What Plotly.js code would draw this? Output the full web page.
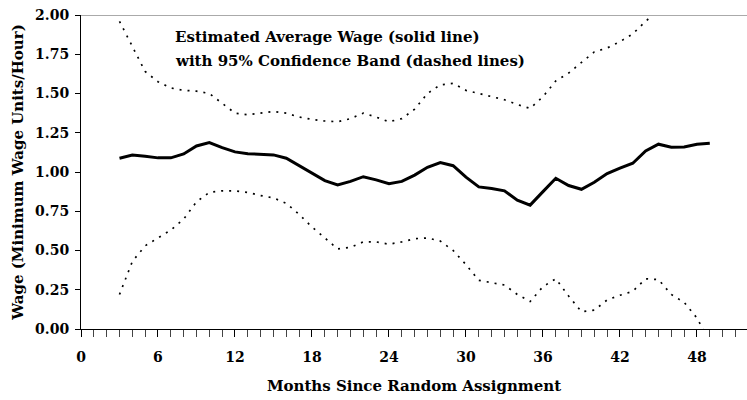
<!DOCTYPE html>
<html>
<head>
<meta charset="utf-8">
<script src="https://cdn.plot.ly/plotly-3.0.1.min.js"></script>
<style>html,body{margin:0;padding:0;background:#fff;}#chart{width:747px;height:400px;}</style>
</head>
<body>
<div id="chart"></div>
<script>
var months = [3,4,5,6,7,8,9,10,11,12,13,14,15,16,17,18,19,20,21,22,23,24,25,26,27,28,29,30,31,32,33,34,35,36,37,38,39,40,41,42,43,44,45,46,47,48,49];
var wage = [1.088,1.108,1.10,1.09,1.09,1.115,1.166,1.187,1.155,1.128,1.117,1.115,1.109,1.088,1.04,0.99,0.945,0.918,0.94,0.97,0.95,0.925,0.94,0.98,1.03,1.06,1.04,0.967,0.905,0.895,0.88,0.82,0.789,0.875,0.96,0.914,0.89,0.935,0.99,1.024,1.056,1.134,1.177,1.158,1.16,1.177,1.183];
var upper = [1.96,1.80,1.64,1.575,1.535,1.52,1.515,1.50,1.44,1.375,1.365,1.375,1.385,1.375,1.35,1.335,1.325,1.32,1.34,1.375,1.35,1.32,1.34,1.40,1.50,1.555,1.565,1.52,1.50,1.48,1.46,1.43,1.405,1.48,1.58,1.63,1.70,1.765,1.79,1.83,1.88,1.96,2.03,2.10,2.16,2.22,2.28];
var lower = [0.22,0.43,0.53,0.58,0.63,0.70,0.81,0.87,0.88,0.88,0.87,0.85,0.835,0.80,0.73,0.65,0.58,0.51,0.52,0.555,0.555,0.54,0.555,0.575,0.58,0.56,0.50,0.41,0.31,0.295,0.28,0.22,0.175,0.27,0.32,0.21,0.11,0.12,0.185,0.215,0.24,0.32,0.315,0.22,0.17,0.07,-0.08];
var xTicks = [0,6,12,18,24,30,36,42,48];
var yTicks = [0,0.25,0.5,0.75,1.0,1.25,1.5,1.75,2.0];
var yTickText = ["0.00","0.25","0.50","0.75","1.00","1.25","1.50","1.75","2.00"];
var noteLines = ["Estimated Average Wage (solid line)","with 95% Confidence Band (dashed lines)"];

var serif = "DejaVu Serif, Liberation Serif, serif";
var txt = {family:serif, size:15, color:'#000', weight:'bold'};
var tickTxt = {family:serif, size:14, color:'#000', weight:'bold'};
var dotted = {color:'#000', width:1.7, dash:'2px,6px'};

var traces = [
  {x:months, y:upper, mode:'lines', line:dotted, hoverinfo:'skip', showlegend:false},
  {x:months, y:lower, mode:'lines', line:dotted, hoverinfo:'skip', showlegend:false},
  {x:months, y:wage, mode:'lines', line:{color:'#000', width:3}, showlegend:false}
];

var layout = {
  width:747, height:400,
  margin:{l:81, r:0, t:15, b:71},
  paper_bgcolor:'#fff', plot_bgcolor:'#fff',
  font:{family:serif, color:'#000'},
  xaxis:{
    range:[0,51.9], tickvals:xTicks, ticktext:xTicks.map(String),
    ticks:'outside', ticklen:7, tickwidth:1, tickcolor:'#000',
    minor:{dtick:1, tick0:0, ticks:'outside', ticklen:7, tickwidth:1, tickcolor:'#444'},
    showgrid:false, zeroline:false, showline:true, linecolor:'#000', linewidth:1,
    tickfont:tickTxt, ticklabelstandoff:8,
    title:{text:'Months Since Random Assignment', font:txt, standoff:16}
  },
  yaxis:{
    range:[0,2], tickvals:yTicks, ticktext:yTickText,
    ticks:'outside', ticklen:5, tickwidth:1, tickcolor:'#000',
    showgrid:false, zeroline:false, showline:true, linecolor:'#000', linewidth:1,
    tickfont:tickTxt, ticklabelstandoff:3,
    title:{text:'Wage (Minimum Wage Units/Hour)', font:txt, standoff:7}
  },
  shapes:[
    {type:'line', xref:'paper', yref:'y', x0:0, x1:1, y0:2, y1:2, line:{color:'#aaa', width:2}}
  ],
  annotations:[
    {xref:'paper', yref:'paper', x:(173-81)/666, y:1-(37-15)/314, xanchor:'left', yanchor:'middle', showarrow:false, align:'left',
     text:noteLines[0], font:txt},
    {xref:'paper', yref:'paper', x:(173-81)/666, y:1-(61-15)/314, xanchor:'left', yanchor:'middle', showarrow:false, align:'left',
     text:noteLines[1], font:txt}
  ]
};

Plotly.newPlot('chart', traces, layout, {displayModeBar:false, staticPlot:true});
</script>
</body>
</html>
